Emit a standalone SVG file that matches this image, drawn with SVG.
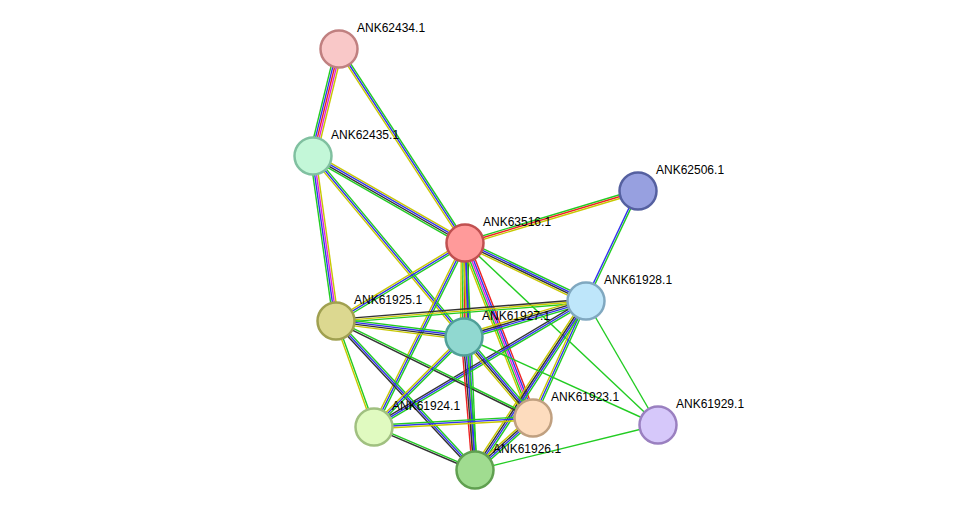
<svg xmlns="http://www.w3.org/2000/svg" width="975" height="516" viewBox="0 0 975 516">
<style>
line{stroke-width:1.4;fill:none}
.g{stroke:#22cc22}.b{stroke:#3333ee}.y{stroke:#c8c800}.k{stroke:#333}.r{stroke:#ee2222}.m{stroke:#dd22dd}
circle{stroke-width:2.5}
text{font-family:"Liberation Sans",Arial,sans-serif;font-size:12px;fill:#000}
</style>
<rect width="975" height="516" fill="#fff"/>
<g id="connectors">
<g transform="translate(339,49) rotate(103.7)"><line class="y" x1="0" y1="-3.6" x2="110" y2="-3.6"/><line class="m" x1="0" y1="-1.8" x2="110" y2="-1.8"/><line class="r" x1="0" y1="0" x2="110" y2="0"/><line class="b" x1="0" y1="1.8" x2="110" y2="1.8"/><line class="g" x1="0" y1="3.6" x2="110" y2="3.6"/></g>
<g transform="translate(339,49) rotate(57)"><line class="g" x1="0" y1="-1.8" x2="231" y2="-1.8"/><line class="b" x1="0" y1="0" x2="231" y2="0"/><line class="y" x1="0" y1="1.8" x2="231" y2="1.8"/></g>
<g transform="translate(313,156) rotate(29.8)"><line class="y" x1="0" y1="-2.7" x2="175" y2="-2.7"/><line class="b" x1="0" y1="-0.9" x2="175" y2="-0.9"/><line class="k" x1="0" y1="0.9" x2="175" y2="0.9"/><line class="g" x1="0" y1="2.7" x2="175" y2="2.7"/></g>
<g transform="translate(313,156) rotate(82.1)"><line class="y" x1="0" y1="-2.7" x2="167" y2="-2.7"/><line class="m" x1="0" y1="-0.9" x2="167" y2="-0.9"/><line class="b" x1="0" y1="0.9" x2="167" y2="0.9"/><line class="g" x1="0" y1="2.7" x2="167" y2="2.7"/></g>
<g transform="translate(313,156) rotate(50.2)"><line class="g" x1="0" y1="-1.8" x2="236" y2="-1.8"/><line class="b" x1="0" y1="0" x2="236" y2="0"/><line class="y" x1="0" y1="1.8" x2="236" y2="1.8"/></g>
<g transform="translate(465,243) rotate(-16.7)"><line class="g" x1="0" y1="-1.8" x2="181" y2="-1.8"/><line class="r" x1="0" y1="0" x2="181" y2="0"/><line class="y" x1="0" y1="1.8" x2="181" y2="1.8"/></g>
<g transform="translate(465,243) rotate(25.6)"><line class="g" x1="0" y1="-2.7" x2="134" y2="-2.7"/><line class="b" x1="0" y1="-0.9" x2="134" y2="-0.9"/><line class="k" x1="0" y1="0.9" x2="134" y2="0.9"/><line class="y" x1="0" y1="2.7" x2="134" y2="2.7"/></g>
<g transform="translate(465,243) rotate(148.8)"><line class="g" x1="0" y1="-1.8" x2="151" y2="-1.8"/><line class="b" x1="0" y1="0" x2="151" y2="0"/><line class="y" x1="0" y1="1.8" x2="151" y2="1.8"/></g>
<g transform="translate(465,243) rotate(90.6)"><line class="k" x1="0" y1="-3.6" x2="94" y2="-3.6"/><line class="b" x1="0" y1="-1.8" x2="94" y2="-1.8"/><line class="r" x1="0" y1="0" x2="94" y2="0"/><line class="g" x1="0" y1="1.8" x2="94" y2="1.8"/><line class="y" x1="0" y1="3.6" x2="94" y2="3.6"/></g>
<g transform="translate(465,243) rotate(116.3)"><line class="g" x1="0" y1="-1.8" x2="205" y2="-1.8"/><line class="b" x1="0" y1="0" x2="205" y2="0"/><line class="y" x1="0" y1="1.8" x2="205" y2="1.8"/></g>
<g transform="translate(465,243) rotate(68.8)"><line class="r" x1="0" y1="-3.6" x2="188" y2="-3.6"/><line class="b" x1="0" y1="-1.8" x2="188" y2="-1.8"/><line class="m" x1="0" y1="0" x2="188" y2="0"/><line class="g" x1="0" y1="1.8" x2="188" y2="1.8"/><line class="y" x1="0" y1="3.6" x2="188" y2="3.6"/></g>
<g transform="translate(465,243) rotate(87.5)"><line class="g" x1="0" y1="-1.8" x2="227" y2="-1.8"/><line class="b" x1="0" y1="0" x2="227" y2="0"/><line class="y" x1="0" y1="1.8" x2="227" y2="1.8"/></g>
<line class="g" x1="465" y1="243" x2="658" y2="425"/>
<g transform="translate(638,191) rotate(115.3)"><line class="g" x1="0" y1="-0.9" x2="122" y2="-0.9"/><line class="b" x1="0" y1="0.9" x2="122" y2="0.9"/></g>
<g transform="translate(586,301) rotate(175.4)"><line class="g" x1="0" y1="-1.8" x2="251" y2="-1.8"/><line class="y" x1="0" y1="0" x2="251" y2="0"/><line class="k" x1="0" y1="1.8" x2="251" y2="1.8"/></g>
<g transform="translate(586,301) rotate(163.6)"><line class="g" x1="0" y1="-2.7" x2="127" y2="-2.7"/><line class="b" x1="0" y1="-0.9" x2="127" y2="-0.9"/><line class="k" x1="0" y1="0.9" x2="127" y2="0.9"/><line class="y" x1="0" y1="2.7" x2="127" y2="2.7"/></g>
<g transform="translate(586,301) rotate(149.3)"><line class="g" x1="0" y1="-1.8" x2="247" y2="-1.8"/><line class="b" x1="0" y1="0" x2="247" y2="0"/><line class="k" x1="0" y1="1.8" x2="247" y2="1.8"/></g>
<g transform="translate(586,301) rotate(114.4)"><line class="g" x1="0" y1="-1.8" x2="128" y2="-1.8"/><line class="b" x1="0" y1="0" x2="128" y2="0"/><line class="y" x1="0" y1="1.8" x2="128" y2="1.8"/></g>
<g transform="translate(586,301) rotate(123.3)"><line class="g" x1="0" y1="-2.7" x2="202" y2="-2.7"/><line class="b" x1="0" y1="-0.9" x2="202" y2="-0.9"/><line class="k" x1="0" y1="0.9" x2="202" y2="0.9"/><line class="y" x1="0" y1="2.7" x2="202" y2="2.7"/></g>
<line class="g" x1="586" y1="301" x2="658" y2="425"/>
<g transform="translate(336,321) rotate(7.1)"><line class="g" x1="0" y1="-2.7" x2="129" y2="-2.7"/><line class="b" x1="0" y1="-0.9" x2="129" y2="-0.9"/><line class="k" x1="0" y1="0.9" x2="129" y2="0.9"/><line class="y" x1="0" y1="2.7" x2="129" y2="2.7"/></g>
<g transform="translate(336,321) rotate(70.3)"><line class="g" x1="0" y1="-0.9" x2="113" y2="-0.9"/><line class="y" x1="0" y1="0.9" x2="113" y2="0.9"/></g>
<g transform="translate(336,321) rotate(26.2)"><line class="g" x1="0" y1="-0.9" x2="220" y2="-0.9"/><line class="k" x1="0" y1="0.9" x2="220" y2="0.9"/></g>
<g transform="translate(336,321) rotate(47)"><line class="g" x1="0" y1="-1.8" x2="204" y2="-1.8"/><line class="b" x1="0" y1="0" x2="204" y2="0"/><line class="k" x1="0" y1="1.8" x2="204" y2="1.8"/></g>
<g transform="translate(464,337) rotate(135)"><line class="g" x1="0" y1="-1.8" x2="127" y2="-1.8"/><line class="b" x1="0" y1="0" x2="127" y2="0"/><line class="y" x1="0" y1="1.8" x2="127" y2="1.8"/></g>
<g transform="translate(464,337) rotate(49.6)"><line class="g" x1="0" y1="-2.7" x2="106" y2="-2.7"/><line class="b" x1="0" y1="-0.9" x2="106" y2="-0.9"/><line class="k" x1="0" y1="0.9" x2="106" y2="0.9"/><line class="y" x1="0" y1="2.7" x2="106" y2="2.7"/></g>
<g transform="translate(464,337) rotate(85.3)"><line class="g" x1="0" y1="-2.7" x2="133" y2="-2.7"/><line class="b" x1="0" y1="-0.9" x2="133" y2="-0.9"/><line class="k" x1="0" y1="0.9" x2="133" y2="0.9"/><line class="r" x1="0" y1="2.7" x2="133" y2="2.7"/></g>
<line class="g" x1="464" y1="337" x2="658" y2="425"/>
<g transform="translate(374,427) rotate(-3.2)"><line class="g" x1="0" y1="-1.8" x2="159" y2="-1.8"/><line class="b" x1="0" y1="0" x2="159" y2="0"/><line class="y" x1="0" y1="1.8" x2="159" y2="1.8"/></g>
<g transform="translate(374,427) rotate(23.1)"><line class="g" x1="0" y1="-0.9" x2="110" y2="-0.9"/><line class="k" x1="0" y1="0.9" x2="110" y2="0.9"/></g>
<g transform="translate(533,418) rotate(138.1)"><line class="g" x1="0" y1="-2.7" x2="78" y2="-2.7"/><line class="b" x1="0" y1="-0.9" x2="78" y2="-0.9"/><line class="k" x1="0" y1="0.9" x2="78" y2="0.9"/><line class="y" x1="0" y1="2.7" x2="78" y2="2.7"/></g>
<line class="g" x1="475" y1="470" x2="658" y2="425"/>
</g>
<g id="ANK62434.1"><circle cx="339" cy="49" r="18.5" fill="#f9c8c8" stroke="#c08080"/><text x="357" y="32">ANK62434.1</text></g>
<g id="ANK62435.1"><circle cx="313" cy="156" r="18.5" fill="#c3f7d8" stroke="#80c0a0"/><text x="331" y="139">ANK62435.1</text></g>
<g id="ANK62506.1"><circle cx="638" cy="191" r="18.5" fill="#97a0e0" stroke="#5560a0"/><text x="656" y="174">ANK62506.1</text></g>
<g id="ANK63516.1"><circle cx="465" cy="243" r="18.5" fill="#ff9a9a" stroke="#c05050"/><text x="483" y="226">ANK63516.1</text></g>
<g id="ANK61928.1"><circle cx="586" cy="301" r="18.5" fill="#bee6fa" stroke="#80a8c0"/><text x="604" y="284">ANK61928.1</text></g>
<g id="ANK61925.1"><circle cx="336" cy="321" r="18.5" fill="#dcd890" stroke="#a0a050"/><text x="354" y="304">ANK61925.1</text></g>
<g id="ANK61927.1"><circle cx="464" cy="337" r="18.5" fill="#90d8d0" stroke="#50a098"/><text x="482" y="320">ANK61927.1</text></g>
<g id="ANK61924.1"><circle cx="374" cy="427" r="18.5" fill="#e0fac0" stroke="#a0c080"/><text x="392" y="410">ANK61924.1</text></g>
<g id="ANK61923.1"><circle cx="533" cy="418" r="18.5" fill="#fddcbe" stroke="#c0a080"/><text x="551" y="401">ANK61923.1</text></g>
<g id="ANK61929.1"><circle cx="658" cy="425" r="18.5" fill="#d6c8fa" stroke="#9a80c0"/><text x="676" y="408">ANK61929.1</text></g>
<g id="ANK61926.1"><circle cx="475" cy="470" r="18.5" fill="#a0dc90" stroke="#60a050"/><text x="493" y="453">ANK61926.1</text></g>
</svg>
